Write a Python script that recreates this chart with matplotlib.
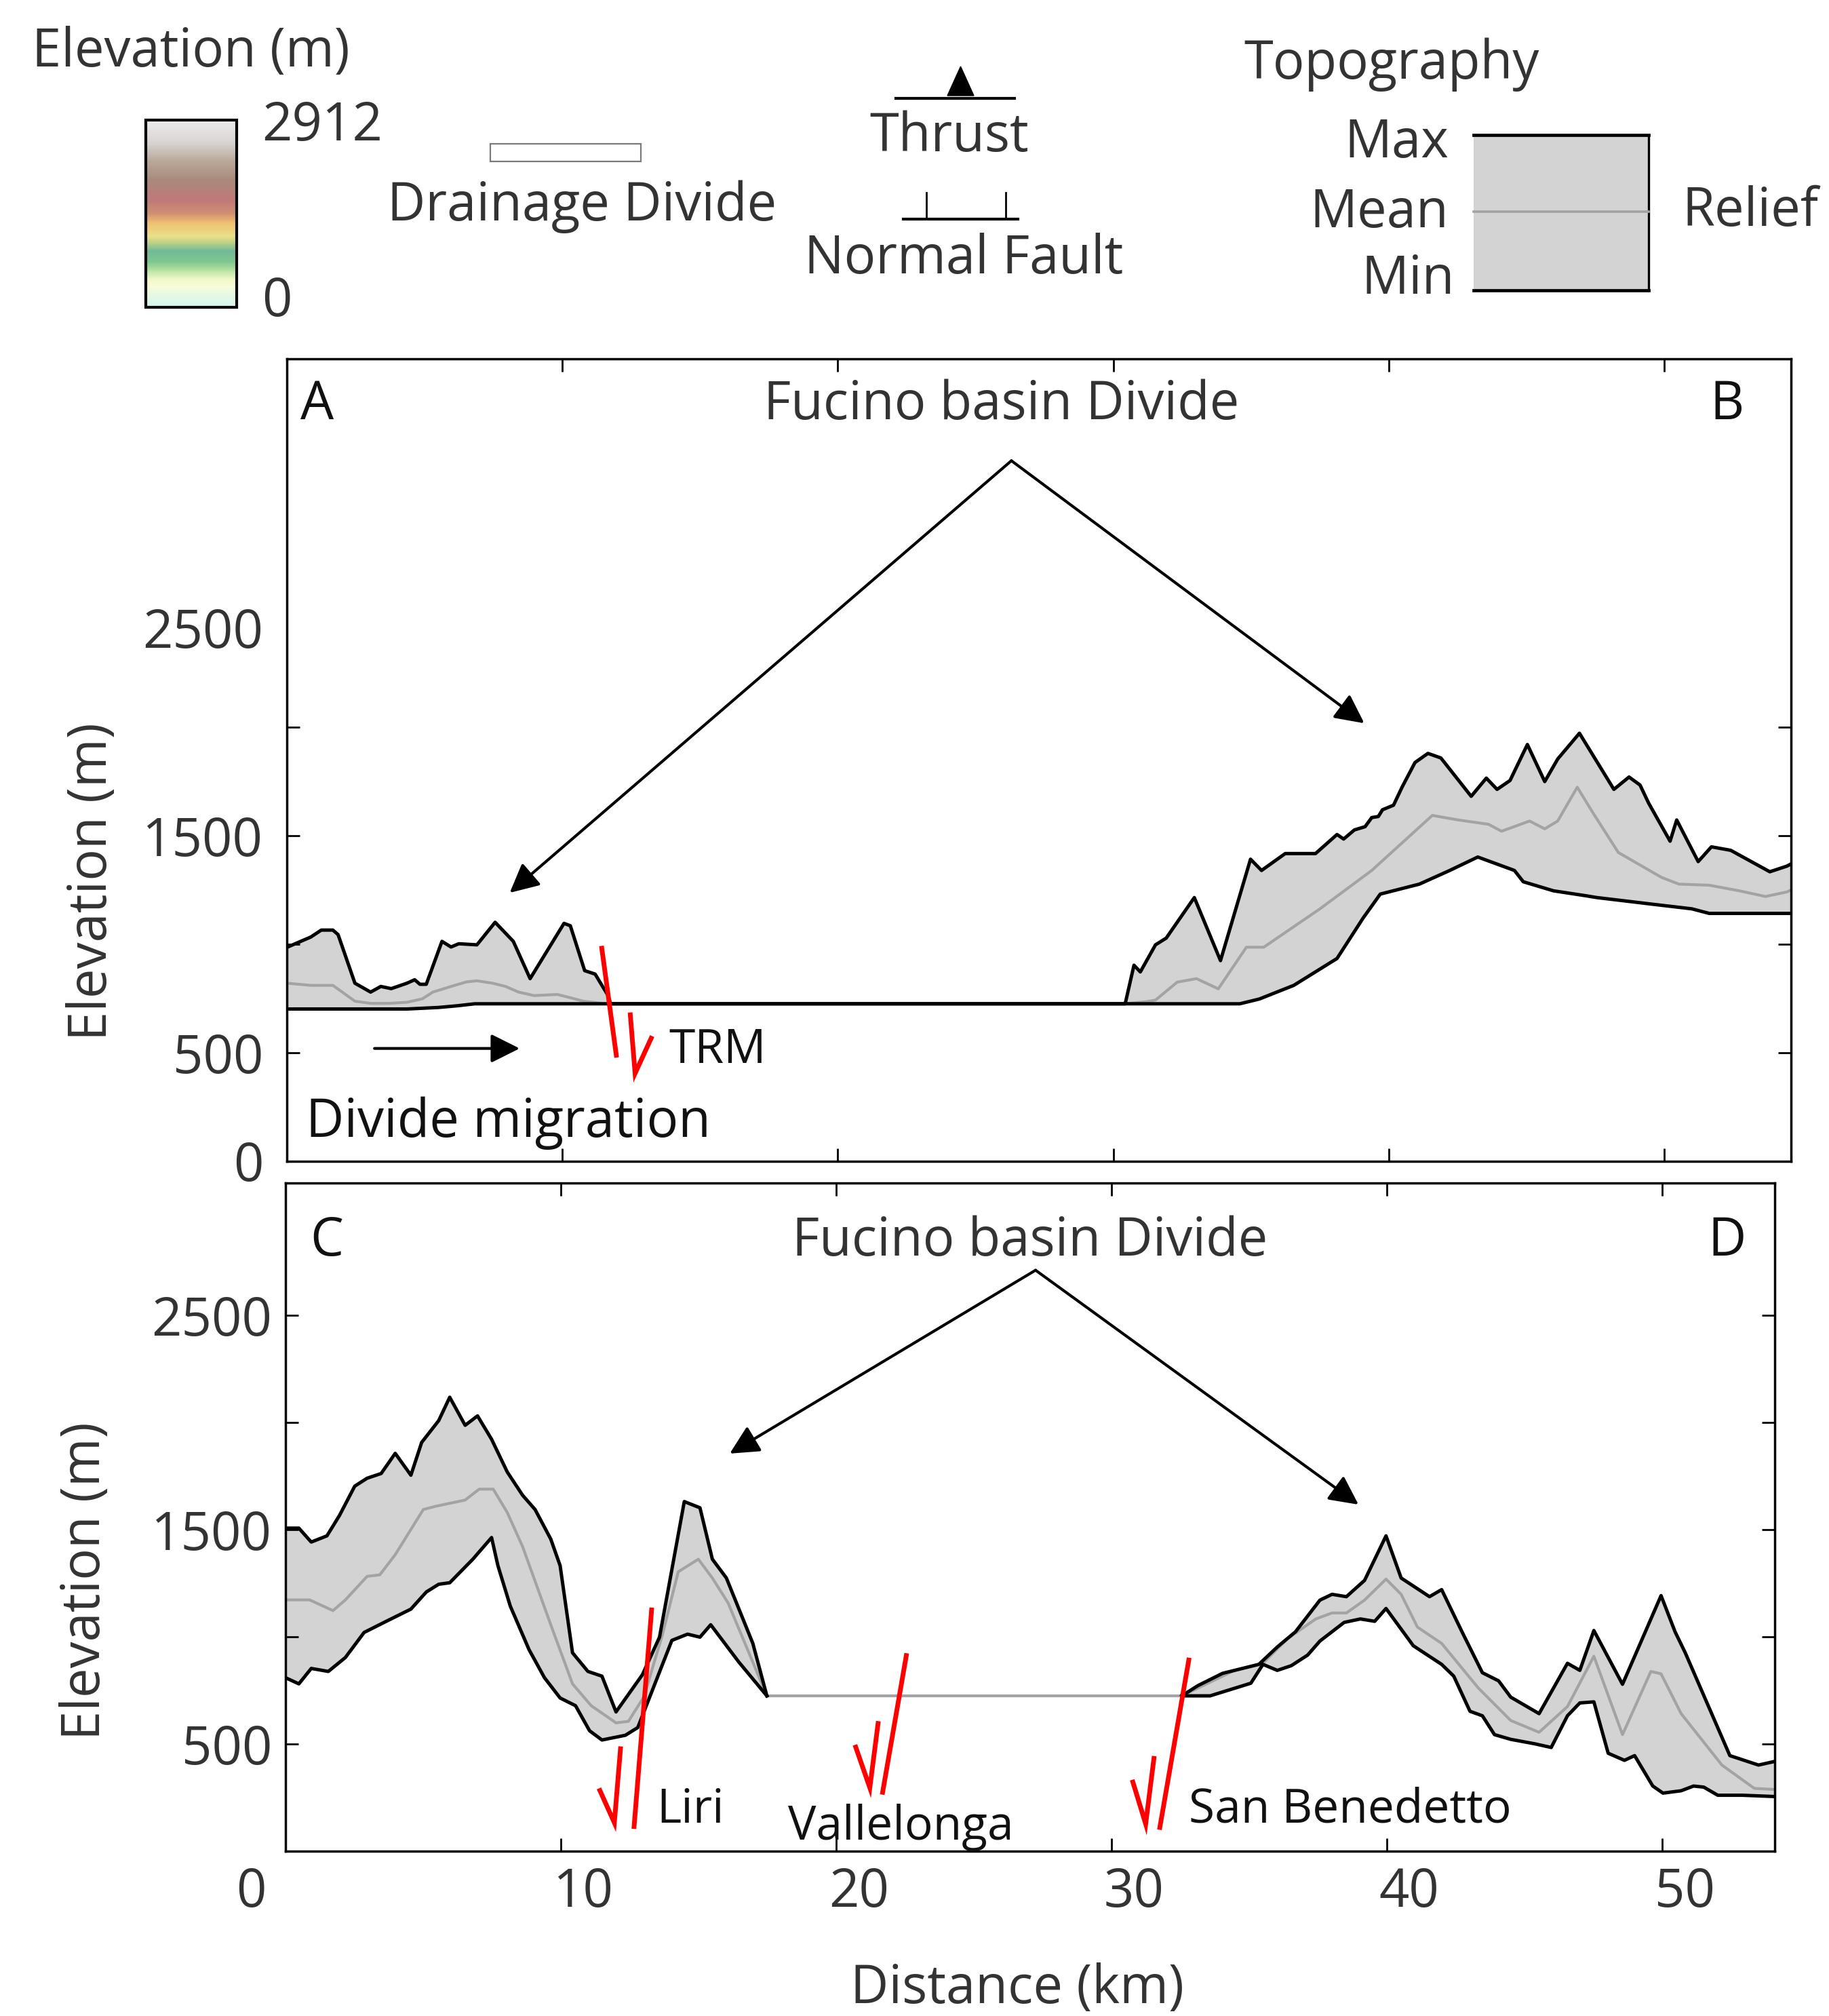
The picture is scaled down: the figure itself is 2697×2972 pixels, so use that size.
import numpy as np
import matplotlib
matplotlib.use("Agg")
import matplotlib.pyplot as plt
from matplotlib.colors import LinearSegmentedColormap, Normalize
from matplotlib.cm import ScalarMappable
from matplotlib.patches import Rectangle, Polygon
from matplotlib.transforms import ScaledTranslation

plt.rcParams['font.family'] = ['Open Sans', 'DejaVu Sans']

# --- Profile A-B (distance km, elevation m) ---
ab_max_km = [0.0, 0.30, 0.87, 1.25, 1.67, 1.86, 2.47, 3.04, 3.41, 3.79, 4.36, 4.64, 4.83, 5.06,
             5.63, 5.96, 6.24, 6.90, 7.56, 8.22, 8.83, 10.06, 10.29, 10.81, 11.19, 11.66, 11.75,
             30.43, 30.75, 30.98, 31.53, 31.92, 32.94, 33.89, 34.98, 35.38, 36.24, 37.34, 37.89,
             38.12, 38.36, 38.75, 39.14, 39.38, 39.62, 39.77, 40.17, 40.48, 40.95, 41.42, 41.89,
             42.99, 43.54, 43.93, 44.40, 45.03, 45.66, 46.13, 46.92, 48.17, 48.72, 49.12, 49.43,
             50.21, 50.45, 51.23, 51.71, 52.41, 53.83, 54.45, 54.60]
ab_max_m = [985, 1002, 1033, 1065, 1065, 1044, 820, 779, 805, 795, 820, 836, 815, 815,
            1013, 987, 1002, 997, 1101, 1013, 841, 1096, 1085, 878, 862, 763, 725,
            725, 903, 872, 997, 1028, 1215, 924, 1392, 1340, 1418, 1418, 1480,
            1506, 1485, 1527, 1542, 1584, 1589, 1620, 1641, 1724, 1838, 1880, 1859,
            1682, 1766, 1714, 1755, 1921, 1750, 1854, 1973, 1714, 1771, 1734, 1651,
            1475, 1573, 1381, 1449, 1433, 1334, 1360, 1370]
ab_mean_km = [0.0, 0.87, 1.67, 1.90, 2.47, 3.04, 3.70, 4.36, 4.92, 5.30, 5.96, 6.52, 6.90, 7.47,
              7.94, 8.41, 8.97, 9.82, 10.29, 10.76, 11.61, 30.43, 31.20, 31.53, 32.32, 33.02,
              33.81, 34.83, 35.46, 37.50, 39.38, 41.58, 42.52, 43.62, 44.09, 45.11, 45.66, 46.13,
              46.84, 47.39, 48.33, 49.90, 50.53, 51.63, 52.73, 53.67, 54.45, 54.60]
ab_mean_m = [820, 810, 810, 789, 737, 727, 727, 732, 748, 779, 805, 826, 831, 820,
             805, 779, 763, 768, 753, 737, 725, 725, 735, 742, 825, 841,
             794, 986, 986, 1163, 1340, 1594, 1573, 1553, 1521, 1568, 1532, 1568,
             1724, 1610, 1423, 1308, 1277, 1272, 1246, 1220, 1241, 1250]
ab_min_km = [0.0, 4.36, 5.50, 6.20, 6.82, 34.59, 35.30, 36.55, 38.12, 39.07, 39.69, 41.11,
             42.21, 43.23, 44.56, 44.88, 45.98, 47.07, 47.55, 49.59, 51.00, 51.63, 54.60]
ab_min_m = [701, 701, 708, 716, 725, 725, 747, 810, 934, 1121, 1231, 1277,
            1340, 1402, 1340, 1288, 1246, 1225, 1215, 1184, 1163, 1142, 1142]

# --- Profile C-D, west and east of the Fucino basin ---
cd_max_w_km = [0.0, 0.49, 0.94, 1.51, 1.96, 2.52, 2.97, 3.48, 3.99, 4.56, 4.95, 5.57, 5.97, 6.53,
               6.98, 7.49, 8.06, 8.62, 9.07, 9.64, 9.98, 10.43, 10.99, 11.50, 12.01, 12.97, 13.59,
               14.49, 15.06, 15.51, 16.02, 16.98, 17.49]
cd_max_w_m = [1508, 1508, 1443, 1472, 1566, 1704, 1741, 1763, 1857, 1755, 1908, 2010, 2119, 1988,
              2032, 1923, 1770, 1661, 1595, 1457, 1333, 926, 839, 817, 650, 824, 999,
              1632, 1603, 1363, 1275, 970, 725]
cd_min_w_km = [0.0, 0.49, 0.94, 1.56, 2.18, 2.86, 3.65, 4.56, 5.12, 5.57, 5.97, 6.81, 7.49, 7.72,
               8.17, 8.85, 9.41, 9.98, 10.54, 11.05, 11.50, 12.35, 12.80, 14.04, 14.61, 15.06,
               15.45, 16.47, 17.49]
cd_min_w_m = [810, 781, 853, 839, 904, 1021, 1072, 1130, 1210, 1246, 1253, 1363, 1464, 1333,
              1144, 941, 810, 715, 679, 562, 519, 541, 577, 984, 1013, 999,
              1057, 883, 725]
cd_max_e_km = [32.56, 33.15, 34.04, 35.36, 36.03, 36.69, 37.58, 38.02, 38.54, 39.20, 39.98, 40.53,
               41.56, 42.00, 42.74, 43.48, 44.07, 44.51, 45.54, 46.57, 47.02, 47.53, 48.57, 49.97,
               50.48, 50.85, 52.47, 53.51, 54.10]
cd_max_e_m = [725, 773, 830, 872, 953, 1024, 1172, 1199, 1188, 1264, 1472, 1275,
              1188, 1221, 1024, 833, 795, 719, 642, 877, 844, 1030, 779, 1193,
              1024, 926, 446, 402, 419]
cd_min_e_km = [32.56, 33.59, 35.07, 35.51, 36.03, 36.54, 37.13, 37.58, 38.46, 39.05, 39.57, 39.98,
               40.97, 42.00, 42.44, 43.03, 43.48, 43.92, 44.51, 45.39, 45.98, 46.57, 47.02, 47.53,
               48.05, 48.64, 49.01, 49.67, 50.04, 50.70, 51.15, 51.52, 52.03, 52.92, 54.10]
cd_min_e_m = [725, 725, 784, 872, 844, 866, 915, 981, 1068, 1084, 1073, 1133,
              959, 872, 817, 653, 632, 544, 522, 501, 484, 632, 692, 697,
              457, 424, 446, 304, 271, 282, 304, 299, 261, 261, 255]
cd_mean_km = [0.0, 0.88, 1.73, 2.18, 2.97, 3.43, 3.99, 5.01, 5.46, 6.53, 7.04, 7.55, 8.06, 8.62,
              9.64, 10.43, 11.11, 12.01, 12.46, 13.03, 13.70, 14.27, 15.00, 15.51, 16.08, 17.49,
              32.56, 34.48, 35.51, 36.40, 37.43, 38.02, 38.54, 39.20, 39.98, 40.53, 41.12, 42.00,
              43.33, 44.51, 45.54, 46.57, 47.53, 48.57, 49.60, 49.97, 50.70, 52.18, 53.36, 54.10]
cd_mean_m = [1173, 1173, 1123, 1173, 1283, 1290, 1384, 1595, 1610, 1639, 1690, 1690, 1581, 1421,
             1057, 781, 679, 599, 606, 722, 1013, 1304, 1363, 1275, 1159, 725,
             725, 844, 877, 992, 1084, 1112, 1112, 1172, 1270, 1199, 1046, 970,
             762, 610, 555, 675, 910, 544, 839, 828, 642, 402, 293, 288]

# --- Normal faults: (top x, top z), (bottom x, bottom z), barb stroke and barb end ---
fault_trm = [(11.42, 992), (11.97, 477), (12.46, 685), (12.64, 404), (13.26, 576)]
fault_liri = [(13.31, 1137), (12.66, 104), (12.18, 489), (11.95, 133), (11.39, 293)]
fault_vall = [(22.57, 924), (21.68, 264), (21.54, 607), (21.23, 296), (20.69, 496)]
fault_sanb = [(32.83, 903), (31.75, 100), (31.56, 444), (31.25, 127), (30.76, 333)]

x_ticks = [0, 10, 20, 30, 40, 50]
x_labels = ['0', '10', '20', '30', '40', '50']
elev_max = 2912
dem_colors = [(0.00, '#d8f4ec'), (0.05, '#e0f8e8'), (0.11, '#f8fcd8'), (0.15, '#f0f8c8'),
              (0.20, '#b0e0a0'), (0.24, '#80c890'), (0.30, '#70b898'), (0.34, '#b8d088'),
              (0.38, '#e8e088'), (0.45, '#f0c070'), (0.50, '#d09070'), (0.57, '#c07878'),
              (0.68, '#a88a7a'), (0.78, '#b8a898'), (0.88, '#d8d4d2'), (1.00, '#ececec')]

FS = 56
FS_FAULT = 50
DARK = '#333333'
INK = '#111111'
FILL = '#d3d3d3'
MEAN = '#a3a3a3'
RED = '#ff0000'

W, H, DPI = 2697, 2972, 100
fig = plt.figure(figsize=(W / DPI, H / DPI), dpi=DPI)


def fig_ax(left, top, right, bottom):
    # add axes from pixel edges of the figure
    return fig.add_axes([left / W, 1 - bottom / H, (right - left) / W, (bottom - top) / H])


def shift_labels(labels, offsets_px):
    for lbl, (dx, dy) in zip(labels, offsets_px):
        lbl.set_transform(lbl.get_transform() + ScaledTranslation(dx / DPI, dy / DPI, fig.dpi_scale_trans))


def frame(ax, xmax, ymax, ymarks, ylab, ypad):
    ax.set_xlim(0, xmax)
    ax.set_ylim(0, ymax)
    ax.yaxis.remove_overlapping_locs = False
    ax.set_xticks(x_ticks)
    ax.tick_params(axis='x', which='major', direction='in', length=14, width=2,
                   top=True, bottom=True, labelsize=FS, labelcolor=DARK, pad=16)
    ax.set_yticks(ymarks, minor=True)
    ax.set_yticks(ylab)
    ax.set_yticklabels([str(v) for v in ylab])
    ax.tick_params(axis='y', which='major', length=0, pad=ypad, labelsize=FS, labelcolor=DARK)
    ax.tick_params(axis='y', which='minor', direction='in', length=14, width=2, left=True, right=True)
    for s in ax.spines.values():
        s.set_linewidth(2.5)
    ax.set_ylabel('Elevation (m)', fontsize=FS, color=DARK)


def fault(ax, pts):
    (x0, z0), (x1, z1), (x2, z2), (x3, z3), (x4, z4) = pts
    ax.plot([x0, x1], [z0, z1], color=RED, lw=5.0, solid_capstyle='butt', clip_on=False)
    ax.plot([x2, x3, x4], [z2, z3, z4], color=RED, lw=5.0, solid_capstyle='butt',
            solid_joinstyle='miter', clip_on=False)


arrow_kw = dict(arrowstyle='-|>', color='k', lw=3.0, mutation_scale=65, shrinkA=0, shrinkB=0)

# --- Top profile A-B ---
ax1 = fig_ax(423, 529, 2641, 1711.5)
ax1.fill(np.r_[ab_max_km, ab_min_km[::-1]], np.r_[ab_max_m, ab_min_m[::-1]], color=FILL, lw=0)
ax1.plot(ab_mean_km, ab_mean_m, color=MEAN, lw=3.0)
ax1.plot(ab_max_km, ab_max_m, color='k', lw=3.6)
ax1.plot(ab_min_km, ab_min_m, color='k', lw=3.6)
frame(ax1, 54.6, 3700, [500, 1000, 1500, 2000], [0, 500, 1500, 2500], 25)
ax1.tick_params(axis='x', labelbottom=False)
shift_labels(ax1.get_yticklabels(), [(0, 0), (0, 0), (0, 0), (0, -12)])
ax1.yaxis.set_label_coords(-0.1292, 0.348)
ax1.yaxis.label.set_va('center')
fault(ax1, fault_trm)
ax1.annotate('', xy=(8.09, 1237), xytext=(26.3, 3230), arrowprops=arrow_kw)
ax1.annotate('', xy=(39.11, 2019), xytext=(26.3, 3230), arrowprops=arrow_kw)
ax1.annotate('', xy=(8.45, 519), xytext=(3.18, 519), arrowprops=arrow_kw)
ax1.text(0.0203, 0.9248, 'A', transform=ax1.transAxes, ha='center', va='baseline', fontsize=FS, color=INK)
ax1.text(0.9572, 0.9248, 'B', transform=ax1.transAxes, ha='center', va='baseline', fontsize=FS, color=INK)
ax1.text(0.4751, 0.9248, 'Fucino basin Divide', transform=ax1.transAxes, ha='center', va='baseline',
         fontsize=FS, color=DARK)
ax1.text(0.2538, 0.1224, 'TRM', transform=ax1.transAxes, ha='left', va='baseline', fontsize=FS_FAULT, color=INK)
ax1.text(0.0126, 0.0296, 'Divide migration', transform=ax1.transAxes, ha='left', va='baseline',
         fontsize=FS, color=INK)

# --- Bottom profile C-D ---
ax2 = fig_ax(420.8, 1743.7, 2617, 2729)
ax2.fill(np.r_[cd_max_w_km, cd_min_w_km[::-1]], np.r_[cd_max_w_m, cd_min_w_m[::-1]], color=FILL, lw=0)
ax2.fill(np.r_[cd_max_e_km, cd_min_e_km[::-1]], np.r_[cd_max_e_m, cd_min_e_m[::-1]], color=FILL, lw=0)
ax2.plot(cd_mean_km, cd_mean_m, color=MEAN, lw=3.0)
for xs, zs in [(cd_max_w_km, cd_max_w_m), (cd_min_w_km, cd_min_w_m),
               (cd_max_e_km, cd_max_e_m), (cd_min_e_km, cd_min_e_m)]:
    ax2.plot(xs, zs, color='k', lw=3.6)
frame(ax2, 54.1, 3120, [500, 1000, 1500, 2000, 2500], [500, 1500, 2500], 14)
ax2.set_xticklabels(x_labels)
shift_labels(ax2.get_xticklabels(), [(-50, 0)] + [(33.5, 0)] * 5)
ax2.yaxis.set_label_coords(-0.1338, 0.404)
ax2.yaxis.label.set_va('center')
ax2.set_xlabel('Distance (km)', fontsize=FS, color=DARK)
ax2.xaxis.set_label_coords(0.4914, -0.2273)
ax2.xaxis.label.set_va('baseline')
for pts in [fault_liri, fault_vall, fault_sanb]:
    fault(ax2, pts)
ax2.annotate('', xy=(16.14, 1856), xytext=(27.25, 2712), arrowprops=arrow_kw)
ax2.annotate('', xy=(38.98, 1618), xytext=(27.25, 2712), arrowprops=arrow_kw)
ax2.text(0.0279, 0.8911, 'C', transform=ax2.transAxes, ha='center', va='baseline', fontsize=FS, color=INK)
ax2.text(0.9677, 0.8911, 'D', transform=ax2.transAxes, ha='center', va='baseline', fontsize=FS, color=INK)
ax2.text(0.5001, 0.8911, 'Fucino basin Divide', transform=ax2.transAxes, ha='center', va='baseline',
         fontsize=FS, color=DARK)
ax2.text(0.2492, 0.043, 'Liri', transform=ax2.transAxes, ha='left', va='baseline', fontsize=FS_FAULT, color=INK)
ax2.text(0.3375, 0.0173, 'Vallelonga', transform=ax2.transAxes, ha='left', va='baseline', fontsize=FS_FAULT, color=INK)
ax2.text(0.6064, 0.043, 'San Benedetto', transform=ax2.transAxes, ha='left', va='baseline', fontsize=FS_FAULT, color=INK)

# --- Legend strip (pixel coordinates) ---
leg = fig_ax(0, 0, W, 505)
leg.set_xlim(0, W)
leg.set_ylim(505, 0)
leg.axis('off')

cmap = LinearSegmentedColormap.from_list('dem', dem_colors)
cax = fig_ax(215, 177, 349, 453)
cb = fig.colorbar(ScalarMappable(norm=Normalize(0, elev_max), cmap=cmap), cax=cax)
cb.set_ticks([0, elev_max])
cb.set_ticklabels(['0', str(elev_max)])
cb.outline.set_linewidth(3)
cax.tick_params(length=0, pad=27, labelsize=FS, labelcolor=DARK)
shift_labels(cax.get_yticklabels(), [(0, 17), (0, 0)])

leg.text(47, 98, 'Elevation (m)', ha='left', va='baseline', fontsize=FS, color=DARK)

leg.add_patch(Rectangle((723, 212), 222, 26, facecolor='white', edgecolor='#7a7a7a', lw=1.6))
leg.text(858, 325, 'Drainage Divide', ha='center', va='baseline', fontsize=FS, color=DARK)

leg.plot([1321, 1496], [145, 145], color='k', lw=3)
leg.add_patch(Polygon([(1397, 141), (1436, 141), (1416.5, 98)], closed=True, color='k'))
leg.text(1400, 223, 'Thrust', ha='center', va='baseline', fontsize=FS, color=DARK)

leg.plot([1332, 1501], [323, 323], color='k', lw=3)
leg.plot([1366, 1366], [284, 323], color='k', lw=2)
leg.plot([1483, 1483], [284, 323], color='k', lw=2)
leg.text(1421, 403, 'Normal Fault', ha='center', va='baseline', fontsize=FS, color=DARK)

leg.text(2052, 116, 'Topography', ha='center', va='baseline', fontsize=FS, color=DARK)
leg.add_patch(Rectangle((2173, 199), 258, 229, facecolor=FILL, edgecolor='none'))
leg.plot([2173, 2431], [199, 199], color='k', lw=3.4)
leg.plot([2173, 2431], [428, 428], color='k', lw=3.4)
leg.plot([2431, 2431], [199, 428], color='k', lw=2.4)
leg.plot([2173, 2431], [312, 312], color=MEAN, lw=2.6)
leg.text(2136, 232, 'Max', ha='right', va='baseline', fontsize=FS, color=DARK)
leg.text(2136, 335, 'Mean', ha='right', va='baseline', fontsize=FS, color=DARK)
leg.text(2145, 433, 'Min', ha='right', va='baseline', fontsize=FS, color=DARK)
leg.text(2480, 333, 'Relief', ha='left', va='baseline', fontsize=FS, color=DARK)

fig.savefig('out.png', dpi=DPI)
